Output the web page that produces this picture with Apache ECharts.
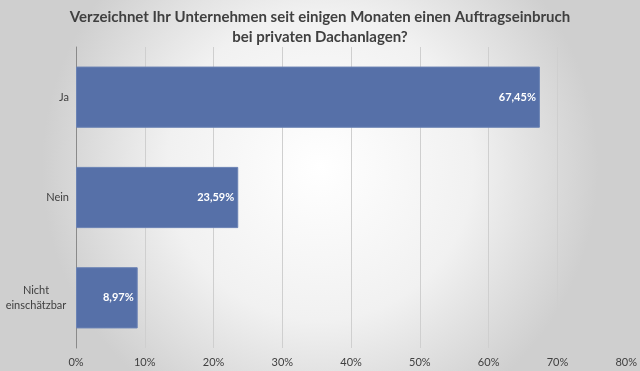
<!DOCTYPE html>
<html><head><meta charset="utf-8">
<script src="https://cdn.jsdelivr.net/npm/echarts@6/dist/echarts.min.js"></script>
<style>html,body{margin:0;padding:0;}#c{width:640px;height:371px;}</style>
</head><body><div id="c"></div>
<script>
const titleText = 'Verzeichnet Ihr Unternehmen seit einigen Monaten einen Auftragseinbruch\nbei privaten Dachanlagen?';
const categories = ['Ja', 'Nein', 'Nicht\neinschätzbar'];
const values = [67.45, 23.59, 8.97];
const valueLabels = ['67,45%', '23,59%', '8,97%'];
const xTicks = [0, 10, 20, 30, 40, 50, 60, 70, 80];

const chart = echarts.init(document.getElementById('c'));
chart.setOption({
  animation: false,
  backgroundColor: {
    type: 'radial', x: 0.5, y: 0.45, r: 0.75,
    colorStops: [{offset: 0, color: '#ffffff'}, {offset: 0.55, color: '#f1f1f1'}, {offset: 1, color: '#cfcfcf'}]
  },
  title: {
    text: titleText, left: 'center', top: 2,
    textStyle: {fontFamily: 'Lato', fontWeight: 'bold', fontSize: 15, color: '#404040', lineHeight: 20}
  },
  grid: {left: 73, right: 12, top: 47, bottom: 23},
  xAxis: {
    type: 'value', min: 0, max: 80, interval: 10,
    axisLabel: {formatter: v => v + '%', fontFamily: 'Lato', fontSize: 11, color: '#404040', margin: 9},
    splitLine: {show: true, lineStyle: {color: '#cfcfcf', width: 1}},
    axisLine: {show: false}, axisTick: {show: false}
  },
  yAxis: {
    type: 'category', data: categories, inverse: true,
    axisLine: {show: true, lineStyle: {color: '#8a8a8a'}},
    axisTick: {show: false},
    axisLabel: {
      fontFamily: 'Lato', fontSize: 11, color: '#404040', margin: 7, lineHeight: 15,
      formatter: v => v.indexOf('\n') >= 0 ? v.split('\n').map(s => '{c|' + s + '}').join('\n') : v,
      rich: {c: {width: 66, align: 'center', fontFamily: 'Lato', fontSize: 11, color: '#404040', lineHeight: 15}}
    }
  },
  series: [{
    type: 'bar', data: values, barWidth: '61%',
    itemStyle: {color: '#5670a8', borderColor: '#6a82b4', borderWidth: 1},
    label: {
      show: true, position: 'insideRight', distance: 4,
      formatter: p => valueLabels[p.dataIndex],
      fontFamily: 'Lato', fontWeight: 'bold', fontSize: 11, color: '#ffffff'
    }
  }]
});
</script></body></html>
